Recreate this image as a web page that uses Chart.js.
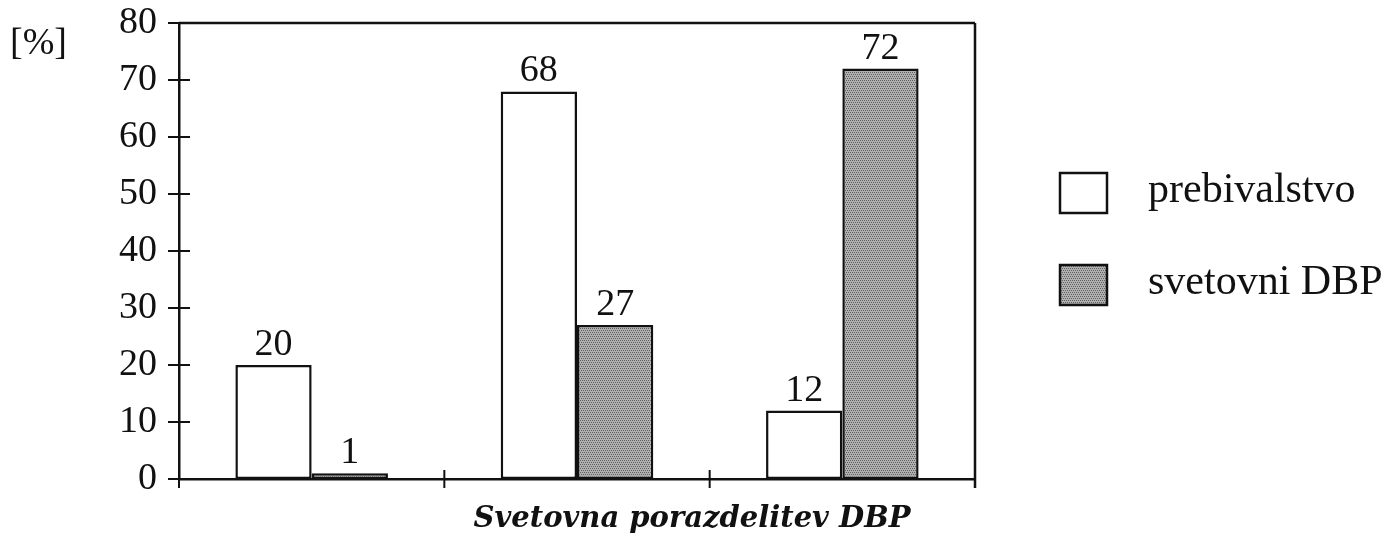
<!DOCTYPE html>
<html>
<head>
<meta charset="utf-8">
<script src="https://cdn.jsdelivr.net/npm/chart.js@4.4.1/dist/chart.umd.min.js"></script>
<style>
  html,body{margin:0;padding:0;background:#fff;}
  #wrap{width:1396px;height:536px;}
</style>
</head>
<body>
<div id="wrap"><canvas id="chart" width="1396" height="536"></canvas></div>
<script>
// data
const categories = ['', '', '']; // no category names in the original
const prebivalstvo = [20, 68, 12];
const svetovniDBP = [1, 27, 72];
const seriesNames = ['prebivalstvo', 'svetovni DBP'];
const yTicks = [0, 10, 20, 30, 40, 50, 60, 70, 80];
const xTitle = 'Svetovna porazdelitev DBP';
const yUnit = '[%]';

const SERIF = '"Liberation Serif", "DejaVu Serif", serif';

function makePattern(){
  const c = document.createElement('canvas');
  c.width = 4; c.height = 4;
  const g = c.getContext('2d');
  g.fillStyle = '#b0b0b0'; g.fillRect(0,0,4,4);
  g.fillStyle = '#606060';
  [[0,0],[2,0],[1,2],[3,2]].forEach(([x,y])=>g.fillRect(x,y,1,1));
  return g.createPattern(c, 'repeat');
}

const ctx = document.getElementById('chart').getContext('2d');
const grayFill = makePattern();

// ticks crossing the axes, frame, value labels, titles and legend
const decor = {
  id:'decor',
  afterDraw(chart){
    const c = chart.ctx, a = chart.chartArea;
    const xs = chart.scales.x, ys = chart.scales.y;
    c.save();
    c.strokeStyle = '#111'; c.lineWidth = 2.5; c.lineCap = 'butt';
    // frame top + right
    c.beginPath();
    c.moveTo(a.left, a.top); c.lineTo(a.right, a.top);
    c.moveTo(a.right, a.top); c.lineTo(a.right, a.bottom + 9);
    c.stroke();
    // y ticks
    c.lineWidth = 2;
    yTicks.forEach(v=>{
      const y = ys.getPixelForValue(v);
      c.beginPath(); c.moveTo(a.left - 11, y); c.lineTo(a.left + 11, y); c.stroke();
    });
    // x ticks at category boundaries
    const w = (a.right - a.left) / categories.length;
    for(let i=0;i<=categories.length;i++){
      const x = i < categories.length ? xs.getPixelForValue(i) - w/2 : xs.getPixelForValue(i-1) + w/2;
      c.beginPath(); c.moveTo(x, a.bottom - 9); c.lineTo(x, a.bottom + 9); c.stroke();
    }
    // value labels
    c.fillStyle = '#111';
    c.font = '38px ' + SERIF;
    c.textAlign = 'center'; c.textBaseline = 'alphabetic';
    chart.data.datasets.forEach((ds, di)=>{
      chart.getDatasetMeta(di).data.forEach((bar, i)=>{
        c.fillText(String(ds.data[i]), bar.x, bar.y - 10);
      });
    });
    // x title (sits right of centre in the original)
    c.font = 'italic bold 29px "DejaVu Serif", serif';
    c.textAlign = 'center'; c.textBaseline = 'middle';
    c.fillText(xTitle, 692, 519);
    // unit
    c.font = '38px ' + SERIF;
    c.textAlign = 'left'; c.textBaseline = 'middle';
    c.fillText(yUnit, 10, 44);
    // legend
    const fills = chart.data.datasets.map(d=>d.backgroundColor);
    c.font = '42px ' + SERIF;
    seriesNames.forEach((name, i)=>{
      const by = 173 + i*92;
      c.fillStyle = fills[i];
      c.fillRect(1060, by, 47, 40);
      c.lineWidth = 2.5; c.strokeStyle = '#111';
      c.strokeRect(1060, by, 47, 40);
      c.fillStyle = '#111';
      c.fillText(name, 1148, by + 18);
    });
    c.restore();
  }
};

new Chart(ctx, {
  type:'bar',
  data:{
    labels: categories,
    datasets:[
      { label: seriesNames[0], data: prebivalstvo, backgroundColor:'#ffffff', borderColor:'#111', borderWidth:2.5, borderSkipped:false },
      { label: seriesNames[1], data: svetovniDBP, backgroundColor: grayFill, borderColor:'#111', borderWidth:2.5, borderSkipped:false }
    ]
  },
  options:{
    responsive:false,
    animation:false,
    devicePixelRatio:1,
    layout:{ padding:{ top:23, right:421, left:0, bottom:0 } },
    datasets:{ bar:{ categoryPercentage:0.575, barPercentage:1 } },
    plugins:{ legend:{ display:false }, tooltip:{ enabled:false } },
    scales:{
      x:{
        grid:{ display:false, drawTicks:false },
        border:{ display:true, color:'#111', width:2.5 },
        ticks:{ display:false },
        afterFit(s){ s.height = 57; s.paddingLeft = 0; s.paddingRight = 0; }
      },
      y:{
        min:0, max:80,
        afterBuildTicks(s){ s.ticks = yTicks.map(v=>({ value:v })); },
        grid:{ display:false, drawTicks:false },
        border:{ display:true, color:'#111', width:2.5 },
        ticks:{ color:'#111', padding:22, font:{ family:SERIF, size:38 } },
        afterFit(s){ s.width = 179; s.paddingTop = 0; s.paddingBottom = 0; }
      }
    }
  },
  plugins:[decor]
});
</script>
</body>
</html>
